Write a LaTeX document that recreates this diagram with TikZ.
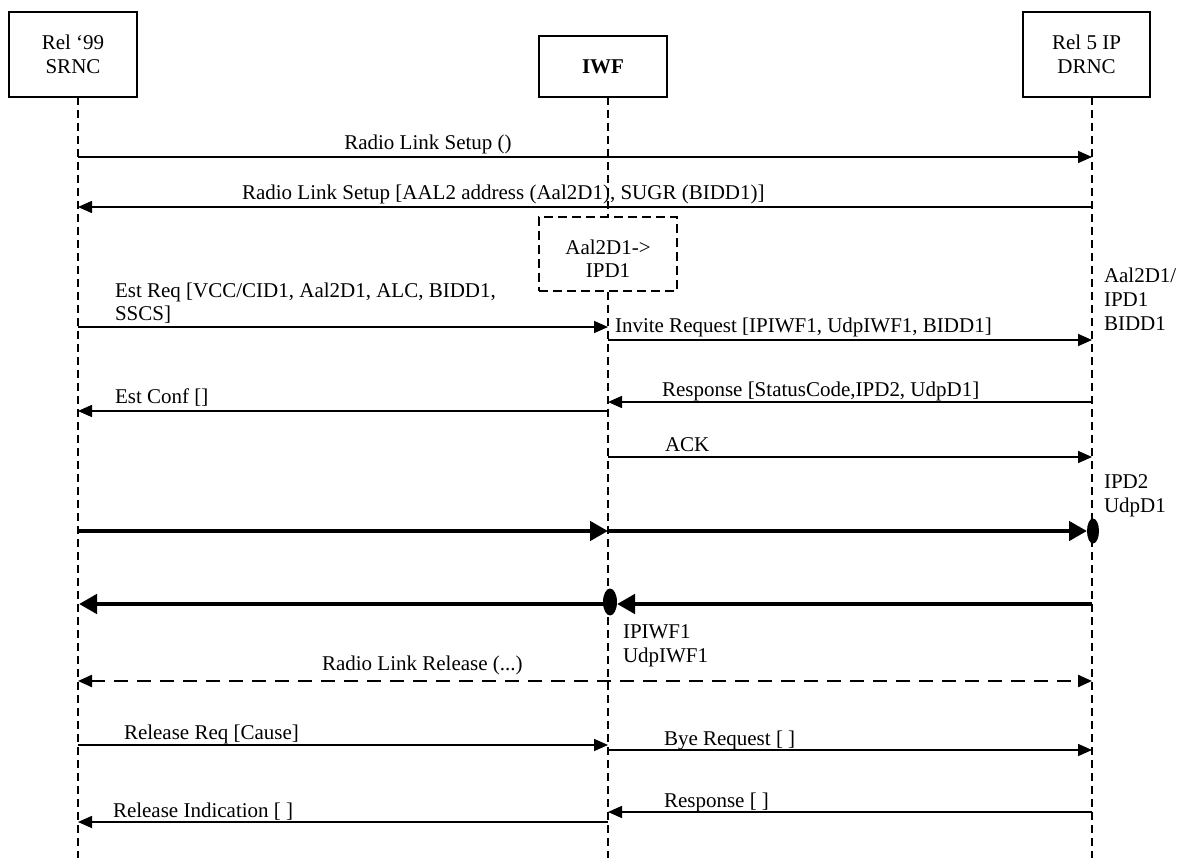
\documentclass[tikz,border=0pt]{standalone}
\usepackage{fontspec}
\setmainfont{Liberation Serif}
\usetikzlibrary{arrows.meta,shapes.geometric}
\begin{document}
\begin{tikzpicture}[x=1pt,y=-1pt,
  every node/.style={font=\fontsize{21}{24}\selectfont, inner sep=0pt, outer sep=0pt},
  entity/.style={draw, line width=1.6pt, align=center},
  life/.style={line width=1.8pt, dash pattern=on 8pt off 5pt},
  msg/.style={line width=1.6pt, -{Triangle[length=14pt,width=12pt]}},
  bigmsg/.style={line width=4.5pt, -{Triangle[length=18pt,width=19pt]}},
  relmsg/.style={line width=2.2pt, dash pattern=on 14pt off 9pt, {Triangle[length=14pt,width=12pt]}-{Triangle[length=14pt,width=12pt]}},
  notebox/.style={draw, line width=1.8pt, dash pattern=on 9pt off 5pt, minimum width=138pt, minimum height=74pt},
  lbl/.style={anchor=base west},
  clbl/.style={anchor=base},
  blob/.style={ellipse, fill=black, draw=none}
]
\useasboundingbox[fill=white] (0,0) rectangle (1178,858);

% entities
\node[entity, minimum width=128pt, minimum height=85pt] (srnc) at (73,54.5) {Rel ‘99\\SRNC};
\node[entity, minimum width=128pt, minimum height=61pt, font=\fontsize{21}{24}\selectfont\bfseries] (iwf) at (603,66.5) {IWF};
\node[entity, minimum width=127pt, minimum height=85pt] (drnc) at (1086.5,54.5) {Rel 5 IP\\DRNC};

% lifelines
\coordinate (sTop) at (78,97);   \coordinate (sBot) at (78,858);
\coordinate (iTop) at (608,97);  \coordinate (iBot) at (608,858);
\coordinate (dTop) at (1092,97); \coordinate (dBot) at (1092,858);
\draw[life] (sTop) -- (sBot);
\draw[life] (iTop) -- (iBot);
\draw[life] (dTop) -- (dBot);

% note box
\node[notebox, fill=white] (note) at (608,254) {};
\node[clbl] (note1) at (608,255) {Aal2D1->};
\node[clbl] (note2) at (608,278) {IPD1};

% message 1
\coordinate (m1s) at (78,157); \coordinate (m1e) at (1092,157);
\draw[msg] (m1s) -- (m1e);
\node[clbl] (l1) at (428,150) {Radio Link Setup ()};

% message 2
\coordinate (m2s) at (1092,207); \coordinate (m2e) at (78,207);
\draw[msg] (m2s) -- (m2e);
\node[lbl] (l2) at (242,200) {Radio Link Setup [AAL2 address (Aal2D1), SUGR (BIDD1)]};

% Est Req
\coordinate (m3s) at (78,327); \coordinate (m3e) at (608,327);
\draw[msg] (m3s) -- (m3e);
\node[lbl] (l3a) at (115,298) {Est Req [VCC/CID1, Aal2D1, ALC, BIDD1,};
\node[lbl] (l3b) at (115,321) {SSCS]};

% Invite Request
\coordinate (m4s) at (608,340); \coordinate (m4e) at (1092,340);
\draw[msg] (m4s) -- (m4e);
\node[lbl] (l4) at (615,333) {Invite Request [IPIWF1, UdpIWF1, BIDD1]};

% right labels
\node[lbl] (r1) at (1104,283) {Aal2D1/};
\node[lbl] (r2) at (1104,307) {IPD1};
\node[lbl] (r3) at (1104,331) {BIDD1};

% Response
\coordinate (m5s) at (1092,402); \coordinate (m5e) at (608,402);
\draw[msg] (m5s) -- (m5e);
\node[lbl] (l5) at (662,397) {Response [StatusCode,IPD2, UdpD1]};

% Est Conf
\coordinate (m6s) at (608,411); \coordinate (m6e) at (78,411);
\draw[msg] (m6s) -- (m6e);
\node[lbl] (l6) at (115,403) {Est Conf []};

% ACK
\coordinate (m7s) at (608,457); \coordinate (m7e) at (1092,457);
\draw[msg] (m7s) -- (m7e);
\node[lbl] (l7) at (665,451) {ACK};

\node[lbl] (r4) at (1104,488) {IPD2};
\node[lbl] (r5) at (1104,512) {UdpD1};

% thick arrows
\node[blob, minimum width=12pt, minimum height=25pt] (blobD) at (1093,531) {};
\node[blob, minimum width=14pt, minimum height=27pt] (blobI) at (610,602) {};
\coordinate (t1s) at (78,531); \coordinate (t1e) at (608,531);
\draw[bigmsg] (t1s) -- (t1e);
\coordinate (t2s) at (608,531);
\draw[bigmsg] (t2s) -- (blobD.west);
\coordinate (t3s) at (1092,604); \coordinate (t3e) at (617,604);
\draw[bigmsg] (t3s) -- (t3e);
\coordinate (t4s) at (608,604); \coordinate (t4e) at (79,604);
\draw[bigmsg] (t4s) -- (t4e);

\node[lbl] (r6) at (623,638) {IPIWF1};
\node[lbl] (r7) at (623,662) {UdpIWF1};

% Radio Link Release
\coordinate (m8s) at (78,681); \coordinate (m8e) at (1092,681);
\draw[relmsg] (m8s) -- (m8e);
\node[lbl] (l8) at (322,670) {Radio Link Release (...)};

% Release Req
\coordinate (m9s) at (78,745); \coordinate (m9e) at (608,745);
\draw[msg] (m9s) -- (m9e);
\node[lbl] (l9) at (124,739) {Release Req [Cause]};

% Bye Request
\coordinate (m10s) at (608,750); \coordinate (m10e) at (1092,750);
\draw[msg] (m10s) -- (m10e);
\node[lbl] (l10) at (664,745) {Bye Request [ ]};

% Response []
\coordinate (m11s) at (1092,812); \coordinate (m11e) at (608,812);
\draw[msg] (m11s) -- (m11e);
\node[lbl] (l11) at (664,807) {Response [ ]};

% Release Indication
\coordinate (m12s) at (608,822); \coordinate (m12e) at (78,822);
\draw[msg] (m12s) -- (m12e);
\node[lbl] (l12) at (113,817) {Release Indication [ ]};
\end{tikzpicture}
\end{document}
